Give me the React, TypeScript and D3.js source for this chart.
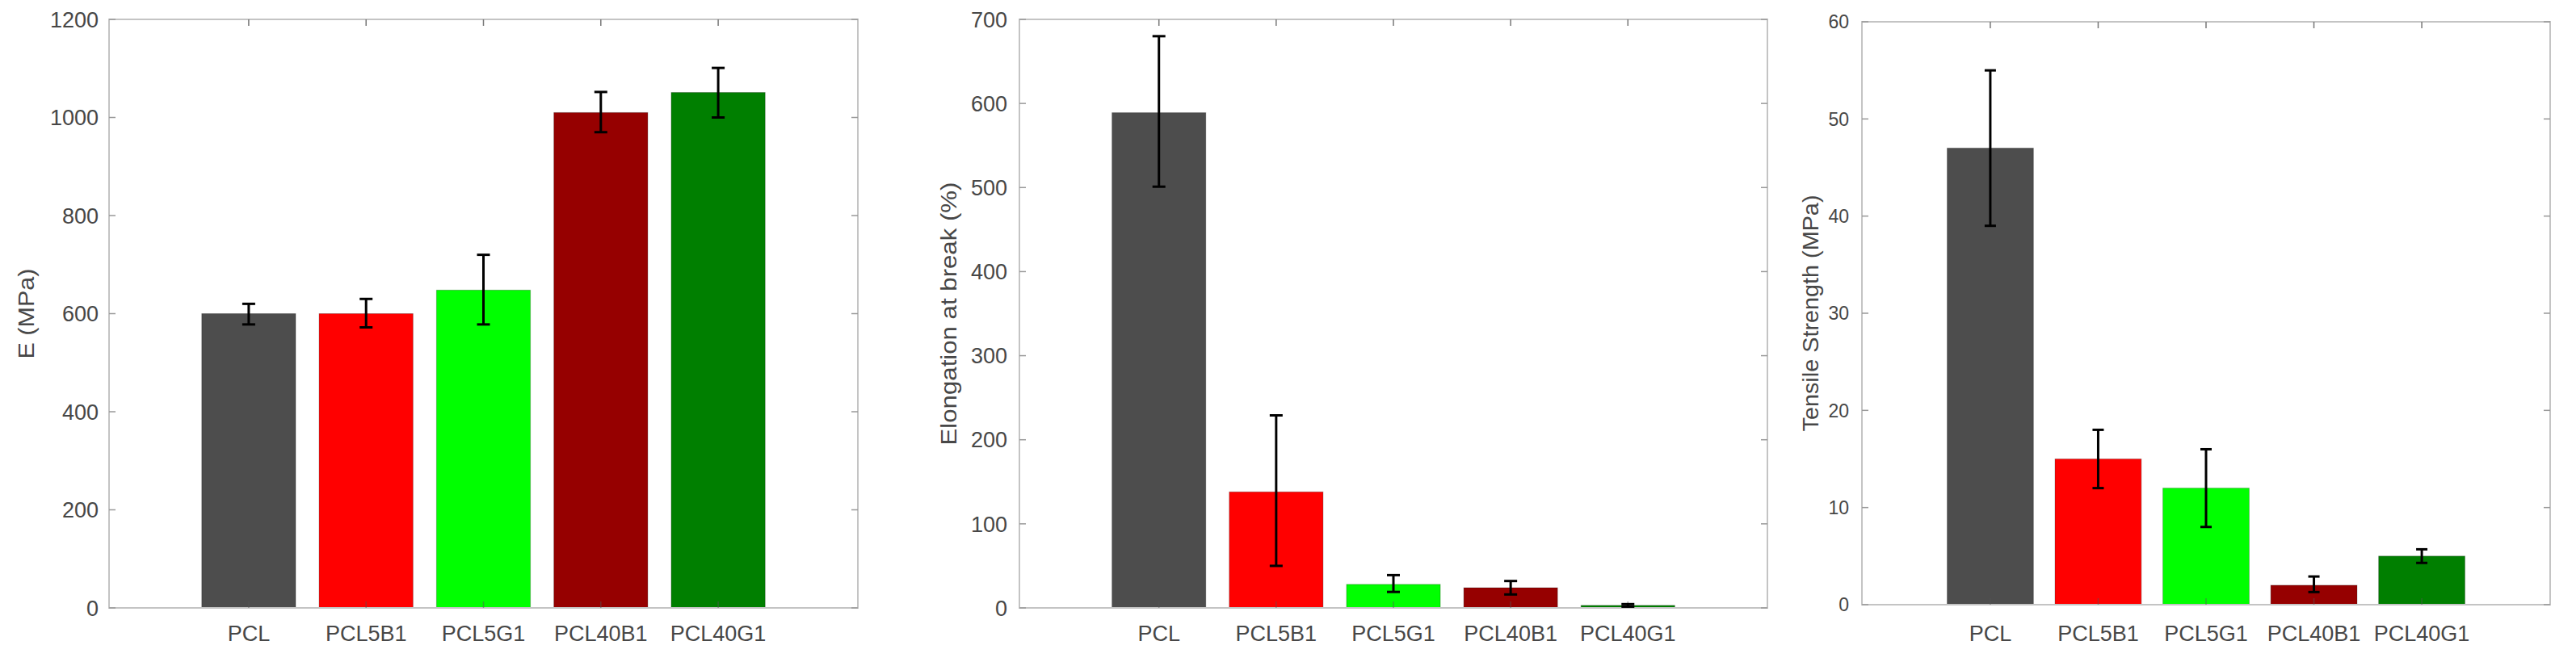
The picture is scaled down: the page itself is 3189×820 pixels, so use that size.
import React from "react";
import * as d3 from "d3";

const categories = ["PCL", "PCL5B1", "PCL5G1", "PCL40B1", "PCL40G1"];
const barColors = ["#4d4d4d", "#ff0000", "#00ff00", "#960000", "#007f00"];

const modulus = [600, 600, 648, 1010, 1051];
const modulusLow = [578, 572, 578, 970, 1000];
const modulusHigh = [620, 630, 720, 1052, 1101];

const elongation = [589, 138, 28, 24, 3];
const elongationLow = [501, 50, 19, 16, 1.5];
const elongationHigh = [680, 229, 39, 32, 4.5];

const strength = [47, 15, 12, 2, 5];
const strengthLow = [39, 12, 8, 1.3, 4.3];
const strengthHigh = [55, 18, 16, 2.9, 5.7];

const modulusTicks = [0, 200, 400, 600, 800, 1000, 1200];
const elongationTicks = [0, 100, 200, 300, 400, 500, 600, 700];
const strengthTicks = [0, 10, 20, 30, 40, 50, 60];

const FONT = "'Liberation Sans', Arial, Helvetica, sans-serif";
const AXIS = "#c4c4c4";
const TEXT = "#474747";

type PanelProps = {
  left: number; right: number; top: number; bottom: number;
  values: number[]; low: number[]; high: number[];
  ticks: number[]; ylabel: string; ylabelX: number; ylabelLen: number;
  tickFont: number; tickGap: number; capW: number;
};

function Panel(p: PanelProps) {
  const x = d3.scaleLinear().domain([1 - 1.19, 5 + 1.19]).range([p.left, p.right]);
  const y = d3.scaleLinear().domain([0, p.ticks[p.ticks.length - 1]]).range([p.bottom, p.top]);
  const bw = x(0.8) - x(0);
  const cy = (p.top + p.bottom) / 2;
  return (
    <g>
      {categories.map((c, i) => (
        <rect key={c} x={x(i + 1) - bw / 2} y={y(p.values[i])} width={bw}
          height={y(0) - y(p.values[i])} fill={barColors[i]} stroke="rgba(0,0,0,0.25)" strokeWidth={1} />
      ))}
      <rect x={p.left} y={p.top} width={p.right - p.left} height={p.bottom - p.top}
        fill="none" stroke={AXIS} strokeWidth={2} />
      {categories.map((c, i) => (
        <g key={"xt" + c}>
          <line x1={x(i + 1)} x2={x(i + 1)} y1={p.bottom} y2={p.bottom - 8} stroke="#555" strokeOpacity={0.5} strokeWidth={1.5} />
          <line x1={x(i + 1)} x2={x(i + 1)} y1={p.top} y2={p.top + 8} stroke="#777" strokeWidth={1.5} />
          <text x={x(i + 1)} y={794} textAnchor="middle" fontSize={27} fill={TEXT} fontFamily={FONT}>{c}</text>
        </g>
      ))}
      {p.ticks.map((t) => (
        <g key={"yt" + t}>
          <line x1={p.left} x2={p.left + 8} y1={y(t)} y2={y(t)} stroke="#999" strokeWidth={1.5} />
          <line x1={p.right} x2={p.right - 8} y1={y(t)} y2={y(t)} stroke="#999" strokeWidth={1.5} />
          <text x={p.left - p.tickGap} y={y(t)} dy="0.36em" textAnchor="end" fontSize={p.tickFont}
            fill={TEXT} fontFamily={FONT}>{t}</text>
        </g>
      ))}
      {categories.map((c, i) => (
        <g key={"eb" + c} stroke="#000" strokeWidth={3}>
          <line x1={x(i + 1)} x2={x(i + 1)} y1={y(p.low[i])} y2={y(p.high[i])} />
          <line x1={x(i + 1) - p.capW / 2} x2={x(i + 1) + p.capW / 2} y1={y(p.low[i])} y2={y(p.low[i])} />
          <line x1={x(i + 1) - p.capW / 2} x2={x(i + 1) + p.capW / 2} y1={y(p.high[i])} y2={y(p.high[i])} />
        </g>
      ))}
      <text transform={`translate(${p.ylabelX},${cy}) rotate(-90)`} textAnchor="middle" dy="0.36em"
        fontSize={28} fill={TEXT} fontFamily={FONT} textLength={p.ylabelLen} lengthAdjust="spacingAndGlyphs">
        {p.ylabel}
      </text>
    </g>
  );
}

export default function App() {
  return (
    <svg width={3189} height={820} style={{ position: "absolute", left: 0, top: 0, background: "#fff" }}>
      <rect width={3189} height={820} fill="#fff" />
      <Panel left={135} right={1062} top={24} bottom={753} values={modulus} low={modulusLow} high={modulusHigh}
        ticks={modulusTicks} ylabel="E (MPa)" ylabelX={32} ylabelLen={112} tickFont={27} tickGap={13} capW={16} />
      <Panel left={1262} right={2188} top={24} bottom={753} values={elongation} low={elongationLow} high={elongationHigh}
        ticks={elongationTicks} ylabel="Elongation at break (%)" ylabelX={1174} ylabelLen={326} tickFont={27} tickGap={15} capW={16} />
      <Panel left={2305} right={3157} top={27} bottom={749} values={strength} low={strengthLow} high={strengthHigh}
        ticks={strengthTicks} ylabel="Tensile Strength (MPa)" ylabelX={2241} ylabelLen={293} tickFont={23} tickGap={16} capW={14} />
    </svg>
  );
}
